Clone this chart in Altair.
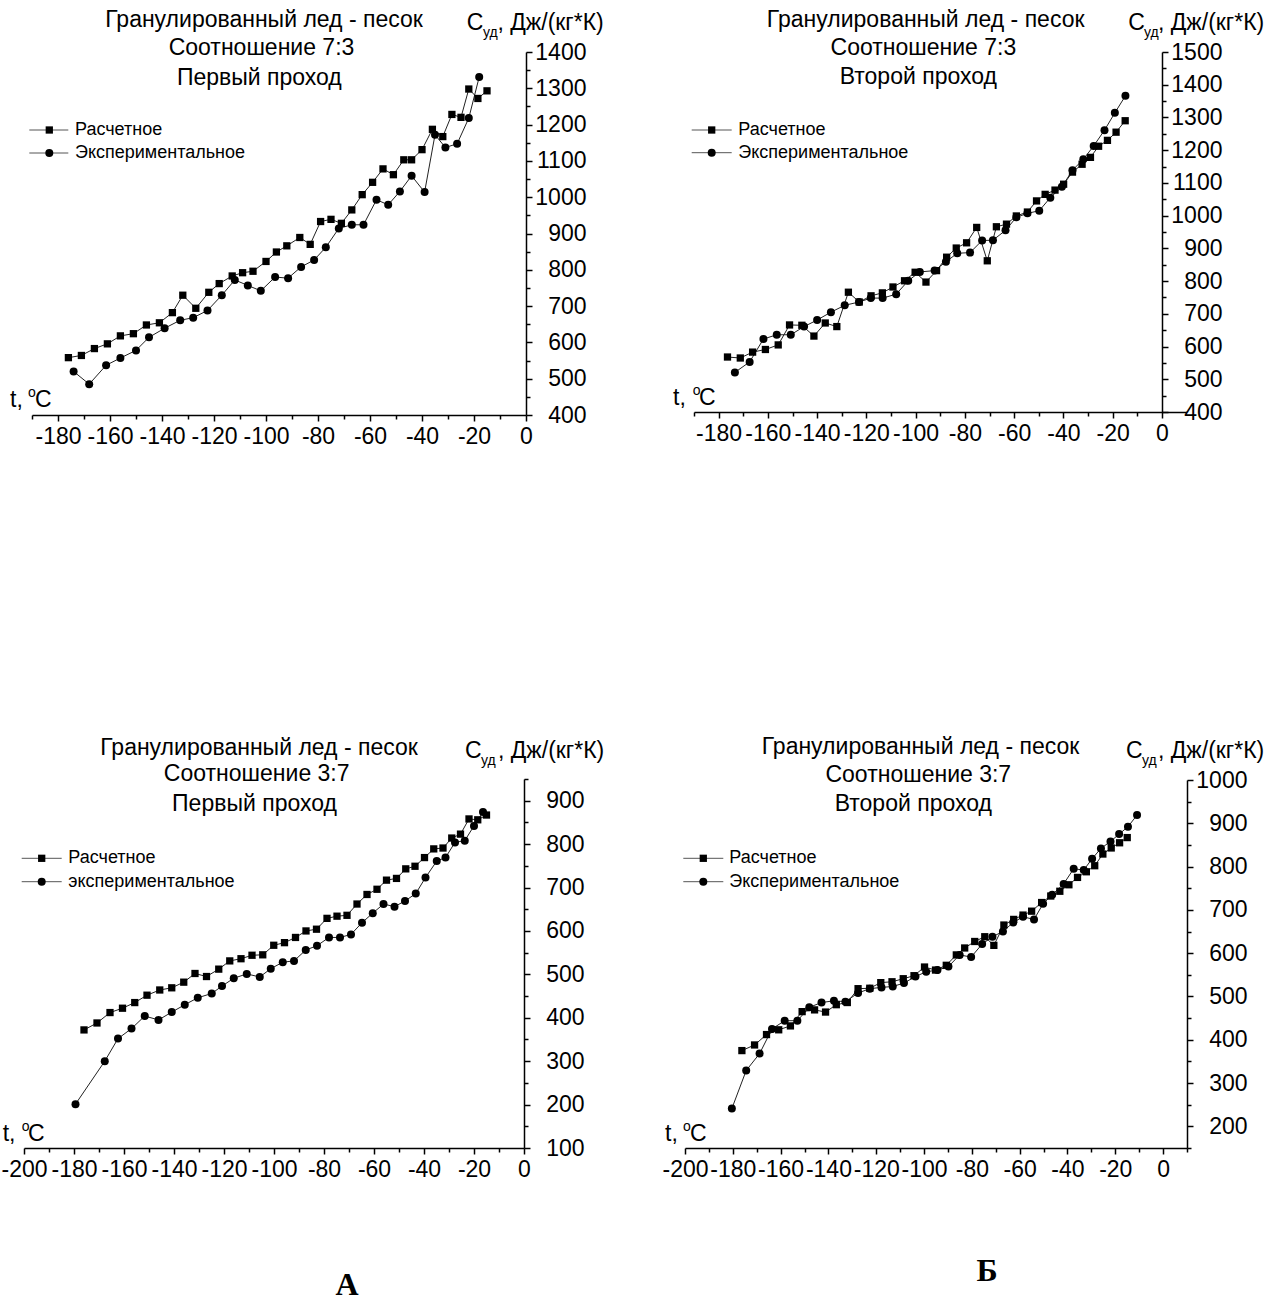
import altair as alt
import pandas as pd

W, H = 1280, 1302

# ---------------- data ----------------
# Panel 1: 7:3, first pass
p1_calc_t = [-176, -171, -166, -161, -156, -151, -146, -141, -136, -132, -127, -122, -118, -113, -109, -105,
             -100, -96, -92, -87, -83, -79, -75, -71, -67, -63, -59, -55, -51, -47, -44, -40, -36, -32,
             -28.5, -25, -22, -18.5, -15]
p1_calc_v = [558, 564, 583, 596, 618, 624, 648, 654, 682, 730, 694, 738, 762, 783, 792, 796,
             823, 849, 866, 889, 870, 933, 939, 928, 965, 1007, 1041, 1078, 1062, 1103, 1103, 1131, 1187, 1167,
             1228, 1220, 1298, 1272, 1293]
p1_exp_t = [-174, -168, -161.5, -156, -150, -145, -139, -133, -128, -122.5, -117, -112, -107, -102, -96.5, -91.5,
            -86.5, -81.5, -77, -72, -67, -62.5, -57.5, -53, -48.5, -44, -39, -35, -31, -26.5, -22, -18]
p1_exp_v = [520, 485, 537, 557, 578, 614, 639, 661, 668, 688, 730, 772, 757, 742, 780, 777,
            808, 827, 862, 914, 924, 924, 993, 979, 1016, 1059, 1014, 1172, 1137, 1147, 1218, 1331]

# Panel 2: 7:3, second pass
p2_calc_t = [-176.4, -171.2, -166.2, -161, -155.8, -151.2, -146.2, -141.3, -136.7, -132, -127.3, -122.9, -118.1,
             -113.5, -109.2, -104.5, -100.2, -95.8, -91.5, -87.4, -83.5, -79.3, -75.2, -70.9, -67.2, -63.1,
             -59.1, -54.6, -50.9, -47.4, -43.4, -39.9, -36.3, -32.4, -29, -25.7, -22.1, -18.6, -14.9]
p2_calc_v = [568, 565, 583, 591, 605, 666, 665, 632, 672, 661, 766, 736, 755,
             764, 782, 801, 827, 797, 832, 873, 901, 917, 964, 862, 966, 974,
             999, 1011, 1045, 1065, 1078, 1096, 1133, 1157, 1178, 1212, 1230, 1255, 1290]
p2_exp_t = [-173.4, -167.4, -161.8, -156.4, -150.7, -145.3, -140, -134.4, -128.8, -123, -118.2, -113.4, -107.9,
            -103, -98.3, -92.3, -87.7, -83.1, -77.9, -73, -68.6, -63.5, -59.1, -54.6, -49.8, -45.3, -40.6,
            -36.3, -31.9, -27.7, -23.3, -19.1, -14.8]
p2_exp_v = [521, 553, 623, 636, 636, 661, 681, 705, 726, 736, 748, 748, 760,
            801, 828, 832, 859, 885, 887, 924, 925, 955, 995, 1007, 1015, 1055, 1088,
            1139, 1172, 1213, 1261, 1314, 1366]

# Panel 3: 3:7, first pass
p3_calc_t = [-176, -170.8, -165.6, -160.6, -155.7, -150.8, -145.7, -140.9, -136.1, -131.6, -127, -122.1, -117.7,
             -113.2, -108.8, -104.5, -100.1, -95.8, -91.4, -87.2, -83, -78.8, -74.8, -70.8, -66.8, -62.8,
             -58.8, -55, -51, -47.3, -43.6, -39.8, -36.1, -32.4, -28.9, -25.4, -22, -18.5, -15]
p3_calc_v = [372, 388, 412, 422, 435, 452, 464, 469, 482, 502, 495, 512, 531,
             536, 544, 545, 567, 573, 585, 600, 604, 629, 634, 636, 662, 684,
             696, 717, 721, 743, 749, 769, 789, 791, 814, 823, 858, 856, 867]
p3_exp_t = [-179.4, -167.7, -162.4, -157, -151.7, -146.2, -140.9, -135.7, -130.5, -124.9, -120.8, -116.1, -110.9,
            -105.7, -101.3, -96.5, -92, -87.3, -82.8, -78, -73.6, -69.2, -64.8, -60.5, -56.2, -51.8, -47.6,
            -43.3, -39.4, -34.9, -31.4, -27.6, -23.7, -20, -16.4]
p3_exp_v = [201, 300, 352, 375, 404, 395, 413, 430, 446, 456, 473, 491, 501,
            494, 513, 528, 531, 556, 566, 585, 585, 592, 619, 641, 662, 656, 669,
            686, 723, 761, 769, 804, 808, 842, 874]

# Panel 4: 3:7, second pass
p4_calc_t = [-176.2, -170.9, -165.9, -160.8, -155.9, -151, -145.8, -141.2, -136.7, -132.1, -127.6, -122.7, -118.1,
             -113.4, -108.7, -104.2, -99.8, -95.2, -90.7, -86.5, -83, -78.8, -74.6, -70.8, -66.6, -62.5,
             -58.6, -55, -50.8, -47, -43.2, -39.4, -35.8, -32.1, -28.6, -25.2, -21.7, -18.2, -15]
p4_calc_v = [375, 388, 412, 423, 432, 465, 469, 464, 481, 486, 518, 519, 532,
             534, 541, 548, 568, 561, 572, 596, 612, 627, 638, 618, 665, 678,
             688, 697, 717, 732, 743, 758, 775, 788, 802, 829, 843, 855, 867]
p4_exp_t = [-180.4, -174.4, -168.8, -163.6, -158.3, -153, -148, -142.9, -137.7, -132.9, -127.6, -122.7, -117.8,
            -113.1, -108.4, -103.6, -99.1, -94.4, -89.8, -85.1, -80.3, -75.7, -71.4, -67, -62.7, -58.6,
            -54, -50.2, -46.4, -41.6, -37.4, -33.2, -29.7, -26, -22, -18.4, -14.7, -10.9]
p4_exp_v = [241, 329, 368, 425, 444, 444, 475, 486, 490, 488, 508, 518, 521,
            523, 531, 546, 557, 561, 569, 596, 591, 621, 638, 650, 671, 684,
            678, 714, 735, 760, 795, 792, 818, 842, 858, 875, 892, 919]

title_line1 = "Гранулированный лед - песок"
ratio_labels = ["Соотношение 7:3", "Соотношение 7:3", "Соотношение 3:7", "Соотношение 3:7"]
pass_labels = ["Первый проход", "Второй проход", "Первый проход", "Второй проход"]
legend_calc = ["Расчетное", "Расчетное", "Расчетное", "Расчетное"]
legend_exp = ["Экспериментальное", "Экспериментальное", "экспериментальное", "Экспериментальное"]

# ---------------- layout (pixel geometry of each panel) ----------------
panels = [
    dict(calc=(p1_calc_t, p1_calc_v), exp=(p1_exp_t, p1_exp_v),
         xdom=[-190, 0], xr=[32, 526], yaxis_x=526, ydom=[400, 1400], yr=[415, 52],
         xmaj=list(range(-180, 1, 20)), xmin=list(range(-190, 0, 20)),
         ymaj=list(range(400, 1401, 100)), ymin=list(range(450, 1400, 100))),
    dict(calc=(p2_calc_t, p2_calc_v), exp=(p2_exp_t, p2_exp_v),
         xdom=[-190, 10], xr=[694, 1186.5], yaxis_x=1162, ydom=[400, 1500], yr=[412, 52],
         xmaj=list(range(-180, 1, 20)), xmin=list(range(-190, 0, 20)),
         ymaj=list(range(400, 1501, 100)), ymin=list(range(450, 1500, 100))),
    dict(calc=(p3_calc_t, p3_calc_v), exp=(p3_exp_t, p3_exp_v),
         xdom=[-200, 0], xr=[24, 524], yaxis_x=524, ydom=[100, 950], yr=[1148, 779],
         xmaj=list(range(-200, 1, 20)), xmin=list(range(-190, 0, 20)),
         ymaj=list(range(100, 901, 100)), ymin=list(range(150, 951, 100))),
    dict(calc=(p4_calc_t, p4_calc_v), exp=(p4_exp_t, p4_exp_v),
         xdom=[-200, 10], xr=[685, 1187], yaxis_x=1187, ydom=[150, 1000], yr=[1148, 780],
         xmaj=list(range(-200, 1, 20)), xmin=list(range(-190, 11, 20)),
         ymaj=list(range(200, 1001, 100)), ymin=list(range(150, 1000, 100))),
]

FONT = "Liberation Sans"
LABEL_SIZE = 23

layers = []
for p in panels:
    xs = alt.Scale(domain=p["xdom"], range=p["xr"], nice=False, zero=False)
    ys = alt.Scale(domain=p["ydom"], range=p["yr"], nice=False, zero=False)
    xoff = p["yr"][0] - H
    yoff = p["yaxis_x"] - W
    common = dict(grid=False, title=None, domainColor="black", tickColor="black",
                  domainWidth=1.5, tickWidth=1.5, labelColor="black", labelFont=FONT,
                  labelFontSize=LABEL_SIZE, labelOverlap=False, labelFlush=False, labelBound=False)
    ax_x = alt.Axis(orient="bottom", offset=xoff, values=p["xmaj"], tickSize=6, labelPadding=4,
                    labelExpr="'' + datum.value", **common)
    ax_y = alt.Axis(orient="right", offset=yoff, values=p["ymaj"], tickSize=6, labelPadding=54,
                    labelAlign="right", labelExpr="'' + datum.value", **common)
    ax_xm = alt.Axis(orient="bottom", offset=xoff, values=p["xmin"], tickSize=4, labels=False,
                     domain=False, grid=False, title=None, tickColor="black", tickWidth=1.5)
    ax_ym = alt.Axis(orient="right", offset=yoff, values=p["ymin"], tickSize=4, labels=False,
                     domain=False, grid=False, title=None, tickColor="black", tickWidth=1.5)

    dcalc = pd.DataFrame({"t": p["calc"][0], "v": p["calc"][1]})
    dexp = pd.DataFrame({"t": p["exp"][0], "v": p["exp"][1]})

    layers.append(alt.Chart(dcalc).mark_line(color="#222222", strokeWidth=1).encode(
        x=alt.X("t:Q", scale=xs, axis=ax_x), y=alt.Y("v:Q", scale=ys, axis=ax_y)))
    layers.append(alt.Chart(dexp).mark_line(color="#222222", strokeWidth=1).encode(
        x=alt.X("t:Q", scale=xs, axis=ax_xm), y=alt.Y("v:Q", scale=ys, axis=ax_ym)))
    layers.append(alt.Chart(dcalc).mark_point(shape="square", filled=True, size=53, color="black",
                                              opacity=1).encode(
        x=alt.X("t:Q", scale=xs, axis=None), y=alt.Y("v:Q", scale=ys, axis=None)))
    layers.append(alt.Chart(dexp).mark_point(shape="circle", filled=True, size=64, color="black",
                                             opacity=1).encode(
        x=alt.X("t:Q", scale=xs, axis=None), y=alt.Y("v:Q", scale=ys, axis=None)))

# ---------------- text annotations ----------------
title_pos = [
    [(264, 27), (261.5, 55), (259.3, 85)],
    [(925.7, 27), (923.4, 55), (918.3, 84)],
    [(259, 755), (256.7, 781), (254.5, 810.5)],
    [(920.5, 754), (918.3, 781.5), (913.3, 811)],
]
rows = []
for i, tp in enumerate(title_pos):
    for (x, y), s in zip(tp, [title_line1, ratio_labels[i], pass_labels[i]]):
        rows.append({"x": x, "y": y, "text": s})
df_titles = pd.DataFrame(rows)

# x-axis title "t, °C" pieces and y-axis title "Cуд, Дж/(кг*К)" pieces
tC = [(10, 35, 407), (673, 699, 405), (2.7, 28, 1140.7), (665, 690, 1140.7)]
tO = [(28, 397), (692.7, 395), (21.7, 1130.7), (683, 1130.7)]
cY = [(466.7, 483, 497.5, 30), (1128.3, 1144, 1158, 30), (465, 481, 498, 758), (1126, 1142, 1158, 758)]
big_rows, small_rows = [], []
for (xt, xc, yb), (xo, yo), (xC, xs_, xr_, yb2) in zip(tC, tO, cY):
    big_rows.append({"x": xt, "y": yb, "text": "t,"})
    big_rows.append({"x": xc, "y": yb, "text": "C"})
    small_rows.append({"x": xo, "y": yo, "text": "o"})
    big_rows.append({"x": xC, "y": yb2, "text": "C"})
    small_rows.append({"x": xs_, "y": yb2 + 7, "text": "уд"})
    big_rows.append({"x": xr_, "y": yb2, "text": ", Дж/(кг*К)"})
df_big = pd.DataFrame(big_rows)
df_small = pd.DataFrame(small_rows)

# legends
leg_geo = [
    (29.3, 68.3, 49.3, 75, 130, 153),
    (691.7, 731.7, 711.7, 738.3, 130, 152.7),
    (21.7, 61.7, 41.7, 68.3, 858.3, 881.7),
    (683.3, 723.3, 703.3, 729.3, 858.3, 881.7),
]
leg_lines, leg_sq, leg_ci, leg_txt = [], [], [], []
for i, (xa, xb, xm, xt, r1, r2) in enumerate(leg_geo):
    leg_lines.append({"x": xa, "x2": xb, "y": r1})
    leg_lines.append({"x": xa, "x2": xb, "y": r2})
    leg_sq.append({"x": xm, "y": r1})
    leg_ci.append({"x": xm, "y": r2})
    leg_txt.append({"x": xt, "y": r1, "text": legend_calc[i]})
    leg_txt.append({"x": xt, "y": r2, "text": legend_exp[i]})

letters = pd.DataFrame([{"x": 347, "y": 1295, "text": "А"}, {"x": 987, "y": 1281, "text": "Б"}])

PX = dict(x=alt.X("x:Q", scale=None, axis=None), y=alt.Y("y:Q", scale=None, axis=None))

layers.append(alt.Chart(df_titles).mark_text(align="center", baseline="alphabetic", font=FONT,
                                             fontSize=LABEL_SIZE, color="black").encode(
    text="text:N", **PX))
layers.append(alt.Chart(df_big).mark_text(align="left", baseline="alphabetic", font=FONT,
                                          fontSize=LABEL_SIZE, color="black").encode(
    text="text:N", **PX))
layers.append(alt.Chart(df_small).mark_text(align="left", baseline="alphabetic", font=FONT,
                                            fontSize=14, color="black").encode(
    text="text:N", **PX))
layers.append(alt.Chart(pd.DataFrame(leg_lines)).mark_rule(color="#555555", strokeWidth=1).encode(
    x2="x2:Q", **PX))
layers.append(alt.Chart(pd.DataFrame(leg_sq)).mark_point(shape="square", filled=True, size=53,
                                                         color="black", opacity=1).encode(**PX))
layers.append(alt.Chart(pd.DataFrame(leg_ci)).mark_point(shape="circle", filled=True, size=64,
                                                         color="black", opacity=1).encode(**PX))
layers.append(alt.Chart(pd.DataFrame(leg_txt)).mark_text(align="left", baseline="middle", font=FONT,
                                                         fontSize=18, color="black").encode(
    text="text:N", **PX))
layers.append(alt.Chart(letters).mark_text(align="center", baseline="alphabetic", font="Liberation Serif",
                                           fontSize=32, fontWeight="bold", color="black").encode(
    text="text:N", **PX))

chart = alt.layer(*layers).resolve_scale(
    x="independent", y="independent"
).resolve_axis(
    x="independent", y="independent"
).properties(
    width=W, height=H, padding=0, autosize=alt.AutoSizeParams(type="none"), background="white"
).configure_view(stroke=None)

chart.save("out.html", embed_options={"renderer": "svg", "actions": False})
